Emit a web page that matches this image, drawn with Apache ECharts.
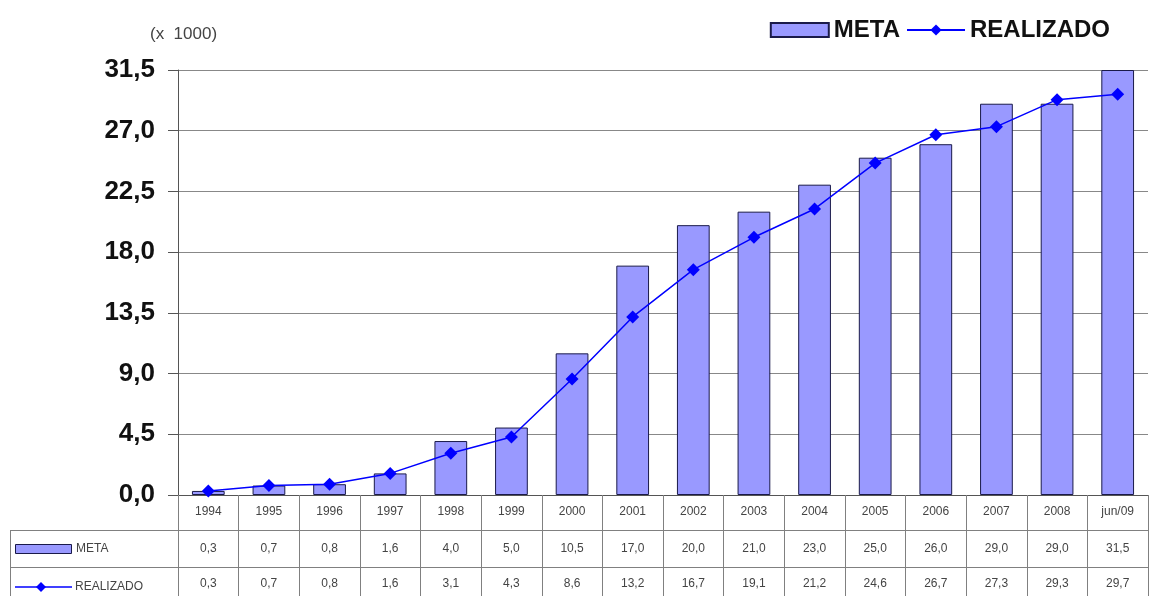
<!DOCTYPE html>
<html>
<head>
<meta charset="utf-8">
<script src="https://cdn.jsdelivr.net/npm/echarts@6/dist/echarts.min.js"></script>
<style>
html,body{margin:0;padding:0;background:#fff;}
#main{width:1149px;height:596px;}
</style>
</head>
<body>
<div id="main"></div>
<script>
var categories = ['1994','1995','1996','1997','1998','1999','2000','2001','2002','2003','2004','2005','2006','2007','2008','jun/09'];
var metaValues = [0.3,0.7,0.8,1.6,4.0,5.0,10.5,17.0,20.0,21.0,23.0,25.0,26.0,29.0,29.0,31.5];
var realizadoValues = [0.3,0.7,0.8,1.6,3.1,4.3,8.6,13.2,16.7,19.1,21.2,24.6,26.7,27.3,29.3,29.7];
var yTicks = {min: 0, max: 31.5, interval: 4.5};

var FONT = '"Liberation Sans", Arial, sans-serif';
var GRID = {left: 178, right: 1, top: 70, bottom: 101};
var LINEC = '#808080';
function fmt(v){ return v.toFixed(1).replace('.', ','); }

var chart = echarts.init(document.getElementById('main'));
var option = {
  backgroundColor: '#fff',
  animation: false,
  textStyle: {fontFamily: FONT},
  title: {
    text: '(x  1000)', left: 145, top: 21,
    textStyle: {fontFamily: FONT, fontSize: 17, fontWeight: 'normal', color: '#444'}
  },
  legend: {
    top: 13, right: 34, itemGap: 6,
    itemWidth: 58, itemHeight: 14,
    textStyle: {fontFamily: FONT, fontSize: 24, fontWeight: 'bold', color: '#111'},
    data: [{name: 'META', icon: 'rect'}, {name: 'REALIZADO'}]
  },
  grid: Object.assign({outerBoundsMode: 'none', containLabel: false}, GRID),
  xAxis: [
    {
      type: 'category', data: categories, position: 'bottom',
      axisLine: {show: true, lineStyle: {color: '#555', width: 1}},
      axisTick: {show: true, length: 101, interval: 0, lineStyle: {color: LINEC}},
      axisLabel: {interval: 0, margin: 11, fontSize: 12, color: '#444', fontFamily: FONT}
    },
    {
      type: 'category', data: categories, position: 'bottom', offset: 35,
      axisLine: {show: true, lineStyle: {color: LINEC}},
      axisTick: {show: false},
      axisLabel: {interval: 0, margin: 13, fontSize: 12, color: '#444', fontFamily: FONT,
        formatter: function(v, i){ return fmt(metaValues[i]); }}
    },
    {
      type: 'category', data: categories, position: 'bottom', offset: 72,
      axisLine: {show: true, lineStyle: {color: LINEC}},
      axisTick: {show: false},
      axisLabel: {interval: 0, margin: 11, fontSize: 12, color: '#444', fontFamily: FONT,
        formatter: function(v, i){ return fmt(realizadoValues[i]); }}
    }
  ],
  yAxis: {
    type: 'value', min: yTicks.min, max: yTicks.max, interval: yTicks.interval,
    axisLine: {show: true, lineStyle: {color: '#555'}},
    axisTick: {show: true, length: 10, lineStyle: {color: '#555'}},
    splitLine: {show: true, lineStyle: {color: '#888', width: 1}},
    axisLabel: {margin: 23, fontSize: 26, fontWeight: 'bold', color: '#111', fontFamily: FONT,
      formatter: function(v){ return fmt(v); }}
  },
  series: [
    {
      name: 'META', type: 'bar', data: metaValues, barWidth: '54%',
      itemStyle: {color: '#9999ff', borderColor: '#1a1a4a', borderWidth: 1}
    },
    {
      name: 'REALIZADO', type: 'line', data: realizadoValues,
      symbol: 'diamond', symbolSize: 13,
      lineStyle: {color: '#0000ff', width: 1.5},
      itemStyle: {color: '#0000ff'}
    }
  ],
  graphic: [
    {type: 'line', shape: {x1: 10, y1: 530.5, x2: GRID.left, y2: 530.5}, style: {stroke: LINEC, lineWidth: 1}},
    {type: 'line', shape: {x1: 10, y1: 567.5, x2: GRID.left, y2: 567.5}, style: {stroke: LINEC, lineWidth: 1}},
    {type: 'line', shape: {x1: 10.5, y1: 530, x2: 10.5, y2: 596}, style: {stroke: LINEC, lineWidth: 1}},
    {type: 'rect', shape: {x: 15.5, y: 544.5, width: 56, height: 9}, style: {fill: '#9999ff', stroke: '#1a1a4a', lineWidth: 1}},
    {type: 'text', x: 76, y: 549, style: {text: 'META', fontSize: 12, fontFamily: FONT, fill: '#444', verticalAlign: 'middle'}},
    {type: 'line', shape: {x1: 15, y1: 587, x2: 72, y2: 587}, style: {stroke: '#0000ff', lineWidth: 1.5}},
    {type: 'polygon', shape: {points: [[41, 582], [46, 587], [41, 592], [36, 587]]}, style: {fill: '#0000ff'}},
    {type: 'text', x: 75, y: 587, style: {text: 'REALIZADO', fontSize: 12, fontFamily: FONT, fill: '#444', verticalAlign: 'middle'}}
  ]
};
chart.setOption(option);
</script>
</body>
</html>
